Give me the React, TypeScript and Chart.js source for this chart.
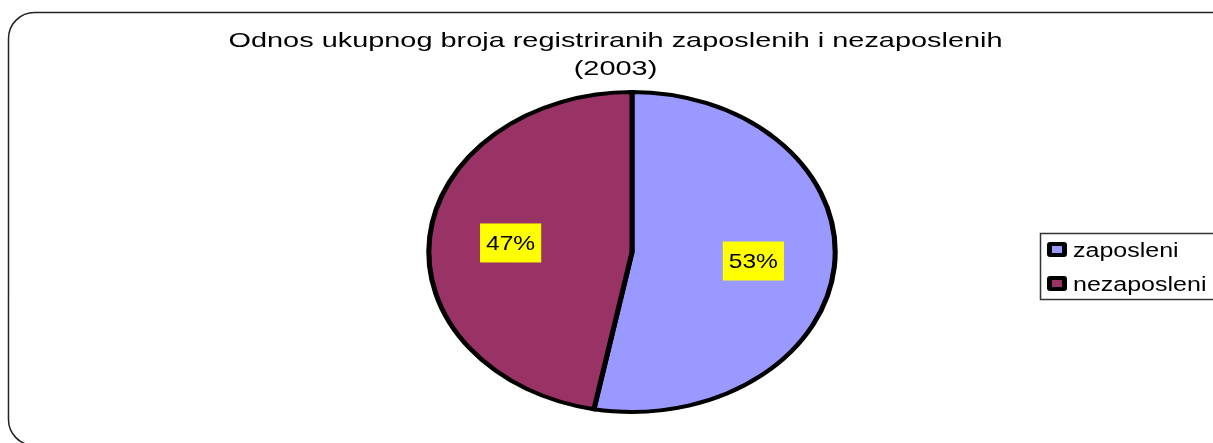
import React, { useEffect, useRef } from "react";
import { Chart, registerables } from "chart.js";

Chart.register(...registerables);

const TITLE_LINES = ["Odnos ukupnog broja registriranih zaposlenih i nezaposlenih", "(2003)"];
const CATEGORIES = ["zaposleni", "nezaposleni"];
const VALUES = [53, 47];
const COLORS = ["#9999FF", "#993366"];

const FONT = "'Liberation Sans', Arial, sans-serif";
const X_STRETCH = 1.27;

const framePlugin = {
  id: "frame",
  beforeDraw(chart: any) {
    const ctx = chart.ctx;
    ctx.save();
    ctx.fillStyle = "#ffffff";
    ctx.fillRect(0, 0, chart.width, chart.height);
    const x = 8.5, y = 12.5, w = 1230, h = 433, r = 26;
    ctx.beginPath();
    ctx.moveTo(x + r, y);
    ctx.lineTo(x + w - r, y);
    ctx.arcTo(x + w, y, x + w, y + r, r);
    ctx.lineTo(x + w, y + h - r);
    ctx.arcTo(x + w, y + h, x + w - r, y + h, r);
    ctx.lineTo(x + r, y + h);
    ctx.arcTo(x, y + h, x, y + h - r, r);
    ctx.lineTo(x, y + r);
    ctx.arcTo(x, y, x + r, y, r);
    ctx.closePath();
    ctx.lineWidth = 1.5;
    ctx.strokeStyle = "#222222";
    ctx.stroke();

    // title
    ctx.fillStyle = "#000000";
    ctx.font = `21px ${FONT}`;
    ctx.textAlign = "center";
    ctx.textBaseline = "alphabetic";
    const cx = 615.5;
    TITLE_LINES.forEach((line, i) => {
      ctx.save();
      ctx.translate(cx, 47 + i * 28);
      const wMeasured = ctx.measureText(TITLE_LINES[0]).width;
      ctx.scale(774 / wMeasured, 1);
      ctx.fillText(line, 0, 0);
      ctx.restore();
    });
    ctx.restore();
  },
  beforeDatasetsDraw(chart: any) {
    const meta = chart.getDatasetMeta(0);
    const arc = meta.data[0];
    const ctx = chart.ctx;
    ctx.save();
    ctx.translate(arc.x, arc.y);
    ctx.scale(X_STRETCH, 1);
    ctx.translate(-arc.x, -arc.y);
  },
  afterDatasetsDraw(chart: any) {
    const ctx = chart.ctx;
    ctx.restore();
    const meta = chart.getDatasetMeta(0);
    const total = VALUES.reduce((a, b) => a + b, 0);
    ctx.save();
    ctx.font = `21px ${FONT}`;
    ctx.textAlign = "center";
    ctx.textBaseline = "middle";
    meta.data.forEach((el: any, i: number) => {
      const mid = (el.startAngle + el.endAngle) / 2;
      const rr = el.outerRadius * 0.6;
      const px = el.x + Math.cos(mid) * rr * X_STRETCH;
      const py = el.y + Math.sin(mid) * rr;
      const label = Math.round((VALUES[i] / total) * 100) + "%";
      const tw = ctx.measureText(label).width * 1.17;
      const bw = tw + 12, bh = 39;
      ctx.fillStyle = "#FFFF00";
      ctx.fillRect(px - bw / 2, py - bh / 2, bw, bh);
      ctx.fillStyle = "#000000";
      ctx.save();
      ctx.translate(px, py + 1);
      ctx.scale(1.17, 1);
      ctx.fillText(label, 0, 0);
      ctx.restore();
    });

    // legend
    const lx = 1040.5, ly = 233.5, lw = 190, lh = 66;
    ctx.fillStyle = "#ffffff";
    ctx.fillRect(lx, ly, lw, lh);
    ctx.lineWidth = 1.5;
    ctx.strokeStyle = "#333333";
    ctx.strokeRect(lx, ly, lw, lh);
    ctx.font = `20px ${FONT}`;
    ctx.textAlign = "left";
    ctx.textBaseline = "alphabetic";
    CATEGORIES.forEach((name, i) => {
      const rowY = 242 + i * 34;
      ctx.fillStyle = "#000000";
      ctx.beginPath();
      (ctx as any).roundRect(1047, rowY, 20, 15, 3);
      ctx.fill();
      ctx.fillStyle = COLORS[i];
      ctx.fillRect(1052, rowY + 4, 10, 7);
      ctx.fillStyle = "#000000";
      ctx.save();
      ctx.translate(1073, rowY + 15);
      ctx.scale(1.25, 1);
      ctx.fillText(name, 0, 0);
      ctx.restore();
    });
    ctx.restore();
  },
};

export default function App() {
  const ref = useRef<HTMLCanvasElement>(null);
  useEffect(() => {
    if (!ref.current) return;
    const chart = new Chart(ref.current, {
      type: "pie",
      data: {
        labels: CATEGORIES,
        datasets: [
          {
            data: VALUES,
            backgroundColor: COLORS,
            borderColor: "#000000",
            borderWidth: 4,
            borderJoinStyle: "miter" as any,
          },
        ],
      },
      options: {
        animation: false,
        responsive: false,
        layout: { padding: { top: 90, bottom: 29, left: 400, right: 349 } },
        plugins: {
          legend: { display: false },
          tooltip: { enabled: false },
          title: { display: false },
        },
      },
      plugins: [framePlugin],
    });
    return () => chart.destroy();
  }, []);
  return (
    <div style={{ position: "fixed", left: 0, top: 0, width: 1213, height: 443 }}>
      <canvas ref={ref} width={1213} height={443} style={{ width: 1213, height: 443 }} />
    </div>
  );
}
